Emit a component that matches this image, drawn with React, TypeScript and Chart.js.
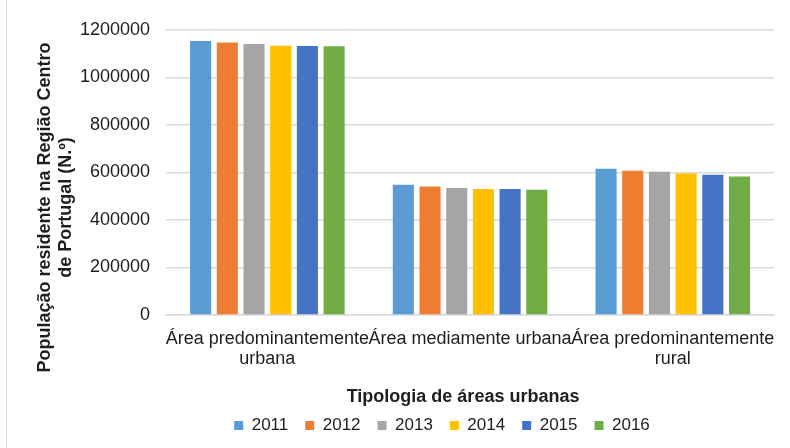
import React, { useEffect, useRef } from 'react';
import { Chart, registerables } from 'chart.js';

Chart.register(...registerables);

const categories: string[][] = [
  ['Área predominantemente', 'urbana'],
  ['Área mediamente urbana'],
  ['Área predominantemente', 'rural'],
];

const years = ['2011', '2012', '2013', '2014', '2015', '2016'];

const values2011 = [1154000, 548000, 616000];
const values2012 = [1147000, 541000, 607000];
const values2013 = [1141000, 535000, 603000];
const values2014 = [1134000, 531000, 596000];
const values2015 = [1133000, 531000, 591000];
const values2016 = [1132000, 527000, 583000];

const seriesValues = [values2011, values2012, values2013, values2014, values2015, values2016];

const colors = ['#5B9BD5', '#ED7D31', '#A5A5A5', '#FFC000', '#4472C4', '#70AD47'];

const yTicks = [0, 200000, 400000, 600000, 800000, 1000000, 1200000];

const xTitle = 'Tipologia de áreas urbanas';
const yTitleLines = ['População residente na Região Centro', 'de Portugal (N.º)'];

const FONT = '"Liberation Sans", Arial, Helvetica, sans-serif';

const titlesPlugin = {
  id: 'axisTitles',
  afterLayout(chart: any) {
    const lg = chart.legend;
    if (lg) {
      const shift = 52;
      lg.left += shift;
      lg.right += shift;
    }
  },
  afterDraw(chart: any) {
    const { ctx, chartArea } = chart;
    ctx.save();
    ctx.fillStyle = '#1e1e1e';
    ctx.font = `bold 18px ${FONT}`;
    ctx.textAlign = 'center';
    ctx.textBaseline = 'middle';
    const cx = (chartArea.left + chartArea.right) / 2 - 7;
    ctx.fillText(xTitle, cx, chartArea.bottom + 82);
    const cy = (chartArea.top + chartArea.bottom) / 2 + 35;
    ctx.translate(chartArea.left - 121, cy);
    ctx.rotate(-Math.PI / 2);
    ctx.fillText(yTitleLines[0], 0, 0);
    ctx.fillText(yTitleLines[1], 0, 21);
    ctx.restore();
  },
};

export default function App() {
  const canvasRef = useRef<HTMLCanvasElement | null>(null);

  useEffect(() => {
    const canvas = canvasRef.current;
    if (!canvas) return;
    const chart = new Chart(canvas, {
      type: 'bar',
      data: {
        labels: categories as any,
        datasets: years.map((y, i) => ({
          label: y,
          data: seriesValues[i],
          backgroundColor: colors[i],
          borderWidth: 0,
          categoryPercentage: 0.79,
          barPercentage: 0.79,
        })),
      },
      options: {
        responsive: false,
        animation: false,
        devicePixelRatio: 1,
        layout: { padding: { top: 30, left: 0, right: 10, bottom: 4 } },
        plugins: {
          legend: {
            position: 'bottom',
            labels: {
              boxWidth: 9,
              boxHeight: 9,
              padding: 17,
              color: '#1e1e1e',
              font: { family: FONT, size: 17 },
            },
          },
          tooltip: { enabled: false },
          title: { display: false },
        },
        scales: {
          x: {
            grid: { display: false, drawTicks: false },
            border: { display: true, color: '#d9d9d9', width: 1.5 },
            ticks: {
              autoSkip: false,
              maxRotation: 0,
              minRotation: 0,
              padding: 14,
              color: '#1e1e1e',
              font: { family: FONT, size: 18, lineHeight: 1.1 },
            },
            afterFit(scale: any) {
              scale.height = 85;
            },
          },
          y: {
            min: 0,
            max: 1200000,
            grid: { color: '#d9d9d9', lineWidth: 1.5, drawTicks: false },
            border: { display: false },
            afterBuildTicks(scale: any) {
              scale.ticks = yTicks.map((v) => ({ value: v }));
            },
            ticks: {
              padding: 16,
              color: '#1e1e1e',
              font: { family: FONT, size: 18 },
              callback: (v: any) => String(v),
            },
            afterFit(scale: any) {
              scale.width = 166;
            },
          },
        },
      },
      plugins: [titlesPlugin],
    });
    return () => chart.destroy();
  }, []);

  return (
    <div style={{ position: 'absolute', left: 0, top: 0, width: 790, height: 448, background: '#fff', overflow: 'hidden' }}>
      <div
        style={{
          position: 'absolute',
          left: 6,
          top: 0,
          width: 1,
          height: 448,
          background: '#d9d9d9',
        }}
      />
      <canvas ref={canvasRef} width={790} height={448} style={{ position: 'absolute', left: 0, top: 0, width: 790, height: 448 }} />
    </div>
  );
}
